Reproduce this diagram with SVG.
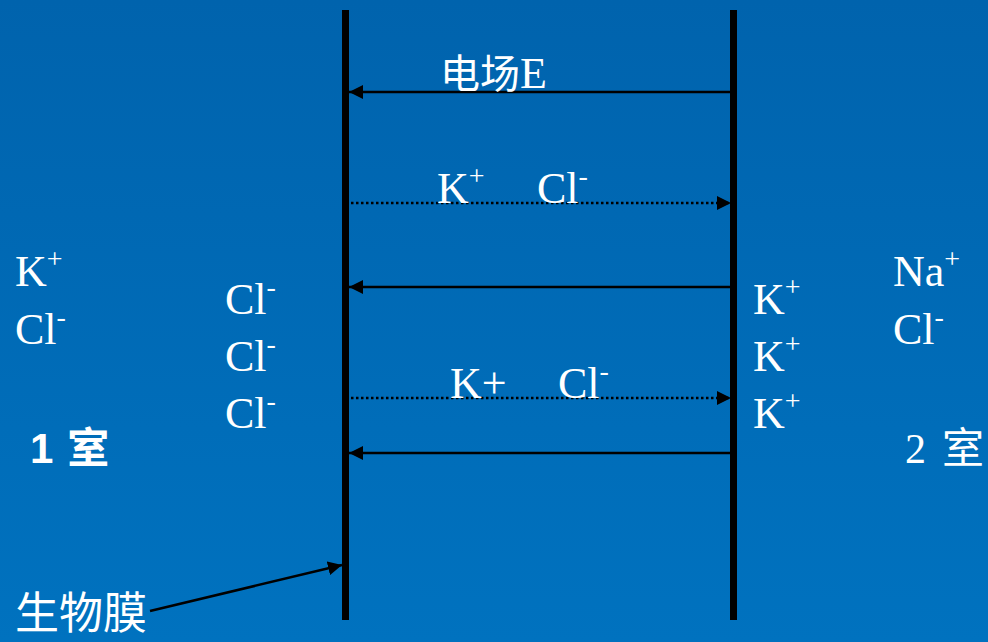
<svg xmlns="http://www.w3.org/2000/svg" width="988" height="642" viewBox="0 0 988 642">
<defs>
<linearGradient id="bg" x1="0" y1="0" x2="0" y2="1">
<stop offset="0" stop-color="#0063AD"/>
<stop offset="1" stop-color="#0072BF"/>
</linearGradient>
<marker id="ah" viewBox="0 0 10 10" refX="10" refY="5" markerWidth="14" markerHeight="14" markerUnits="userSpaceOnUse" orient="auto">
<path d="M0,0 L10,5 L0,10 z" fill="#000"/>
</marker>
<style>
.t{font-family:'Liberation Serif','Times New Roman',serif;fill:#fff;font-size:44px}
.c{font-family:'Liberation Serif','Noto Sans CJK SC',serif;fill:#fff;font-size:40px}
.b{font-family:'Liberation Sans','Noto Sans CJK SC',sans-serif;fill:#fff;font-size:42px;font-weight:bold}
.sup{font-size:28px}
.mem{stroke:#000;stroke-width:7}
.s{stroke:#000;stroke-width:2.5;fill:none;marker-end:url(#ah)}
.d{stroke:#000;stroke-width:2.5;fill:none;stroke-dasharray:2.5 2.5;marker-end:url(#ah)}
</style>
</defs>
<rect width="988" height="642" fill="url(#bg)"/>
<g id="membranes">
<line class="mem" x1="345.5" y1="10" x2="345.5" y2="620"/>
<line class="mem" x1="733.5" y1="10" x2="733.5" y2="620"/>
</g>
<g id="connectors">
<line class="s" x1="730" y1="92" x2="349" y2="92"/>
<line class="d" x1="351" y1="203" x2="731" y2="203"/>
<line class="s" x1="730" y1="287" x2="349" y2="287"/>
<line class="d" x1="351" y1="398" x2="731" y2="398"/>
<line class="s" x1="730" y1="453" x2="349" y2="453"/>
<line class="s" x1="150" y1="611" x2="342" y2="565"/>
</g>
<g id="field-label"><text class="c" x="440" y="88">电场<tspan style="font-size:44px">E</tspan></text></g>
<g id="flow1-label">
<text class="t" x="437" y="203">K<tspan class="sup" dy="-18">+</tspan></text>
<text class="t" x="537" y="203">Cl<tspan class="sup" dy="-18">-</tspan></text>
</g>
<g id="flow2-label">
<text class="t" x="450" y="398">K+</text>
<text class="t" x="558" y="398">Cl<tspan class="sup" dy="-18">-</tspan></text>
</g>
<g id="room1">
<text class="t" x="15" y="286">K<tspan class="sup" dy="-18">+</tspan></text>
<text class="t" x="15" y="344">Cl<tspan class="sup" dy="-18">-</tspan></text>
<text class="b" x="30" y="463">1<tspan dx="14">室</tspan></text>
</g>
<g id="left-cl">
<text class="t" x="225" y="314">Cl<tspan class="sup" dy="-18">-</tspan></text>
<text class="t" x="225" y="371">Cl<tspan class="sup" dy="-18">-</tspan></text>
<text class="t" x="225" y="428">Cl<tspan class="sup" dy="-18">-</tspan></text>
</g>
<g id="right-k">
<text class="t" x="753" y="314">K<tspan class="sup" dy="-18">+</tspan></text>
<text class="t" x="753" y="371">K<tspan class="sup" dy="-18">+</tspan></text>
<text class="t" x="753" y="428">K<tspan class="sup" dy="-18">+</tspan></text>
</g>
<g id="room2">
<text class="t" x="893" y="286">Na<tspan class="sup" dy="-18">+</tspan></text>
<text class="t" x="893" y="344">Cl<tspan class="sup" dy="-18">-</tspan></text>
<text class="c" x="905" y="463" style="font-size:42px">2<tspan dx="16">室</tspan></text>
</g>
<g id="membrane-label"><text class="c" x="15" y="629" style="font-size:44px">生物膜</text></g>
</svg>
